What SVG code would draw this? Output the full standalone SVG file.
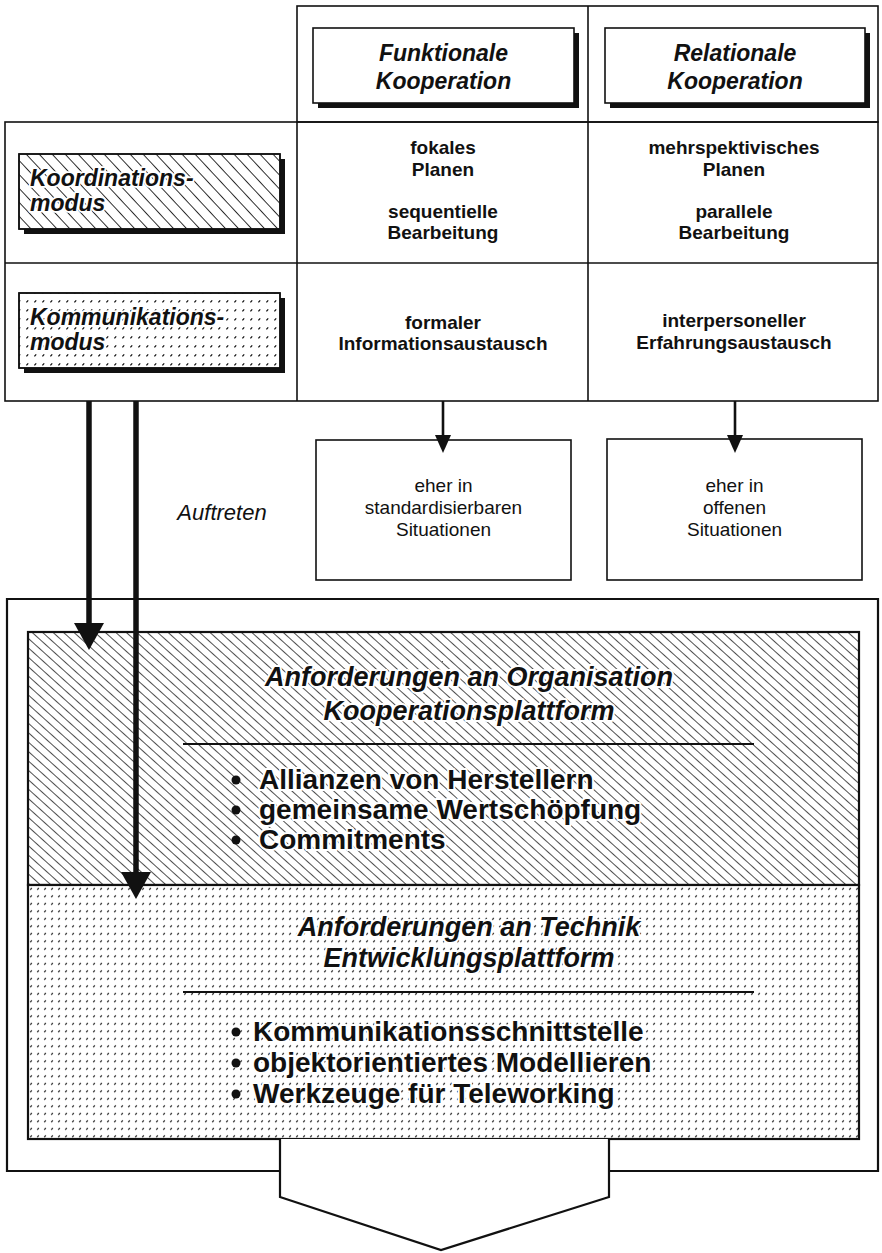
<svg xmlns="http://www.w3.org/2000/svg" width="882" height="1253" viewBox="0 0 882 1253">
<style>
.ln{fill:none;stroke:#111;stroke-width:1.6}
.box{fill:#fff;stroke:#111;stroke-width:1.6}
.shadow{fill:#111}
.frame{fill:none;stroke:#111;stroke-width:2.2}
.hdr{font-family:"Liberation Sans",Arial,sans-serif;font-weight:bold;font-style:italic;font-size:23px;fill:#111;text-anchor:middle}
.lbl{font-family:"Liberation Sans",Arial,sans-serif;font-weight:bold;font-style:italic;font-size:23px;fill:#111;stroke:#fff;stroke-width:3.5;paint-order:stroke;stroke-linejoin:round}
.cell{font-family:"Liberation Sans",Arial,sans-serif;font-weight:bold;font-size:19px;fill:#111;text-anchor:middle}
.sit{font-family:"Liberation Sans",Arial,sans-serif;font-size:19px;fill:#111;text-anchor:middle}
.auf{font-family:"Liberation Sans",Arial,sans-serif;font-style:italic;font-size:22px;fill:#111;text-anchor:middle}
.big{font-family:"Liberation Sans",Arial,sans-serif;font-weight:bold;font-style:italic;font-size:27px;fill:#111;text-anchor:middle;stroke:#fff;stroke-width:4;paint-order:stroke;stroke-linejoin:round}
.item{font-family:"Liberation Sans",Arial,sans-serif;font-weight:bold;font-size:28px;fill:#111;stroke:#fff;stroke-width:4;paint-order:stroke;stroke-linejoin:round}
.conn{fill:none;stroke:#111}
</style>
<defs>
<pattern id="hatchBig" patternUnits="userSpaceOnUse" width="20" height="7" patternTransform="rotate(42)">
<line x1="0" y1="0.5" x2="20" y2="0.5" stroke="#222" stroke-width="0.8"/>
</pattern>
<pattern id="hatchSmall" patternUnits="userSpaceOnUse" width="20" height="9.5" patternTransform="rotate(47)">
<line x1="0" y1="0.5" x2="20" y2="0.5" stroke="#111" stroke-width="0.9"/>
</pattern>
<pattern id="dots" patternUnits="userSpaceOnUse" width="7" height="7.5">
<path d="M2.2,4.7 L3.9,2.9" stroke="#222" stroke-width="1.2"/>
</pattern>
<pattern id="dotsSmall" patternUnits="userSpaceOnUse" width="8" height="9">
<path d="M2.4,5.4 L4.2,3.4" stroke="#111" stroke-width="1.3"/>
</pattern>
<marker id="headThin" markerUnits="userSpaceOnUse" markerWidth="18" markerHeight="16" refX="12" refY="8" orient="auto">
<path d="M0,0 L18,8 L0,16 z" fill="#111"/>
</marker>
<marker id="headThick" markerUnits="userSpaceOnUse" markerWidth="27" markerHeight="30" refX="17" refY="15" orient="auto">
<path d="M0,0 L27,15 L0,30 z" fill="#111"/>
</marker>
</defs>
<rect x="0" y="0" width="882" height="1253" fill="#fff"/>

<g id="table">
<rect class="ln" x="297" y="6" width="581" height="116"/>
<rect class="ln" x="5" y="122" width="873" height="279"/>
<line class="ln" x1="5" y1="263" x2="878" y2="263"/>
<line class="ln" x1="297" y1="122" x2="297" y2="401"/>
<line class="ln" x1="588" y1="6" x2="588" y2="401"/>
</g>

<g id="funktionale">
<rect class="shadow" x="318" y="33" width="261" height="75"/>
<rect class="box" x="313" y="28" width="261" height="75"/>
<text class="hdr" x="443.5" y="61">Funktionale</text>
<text class="hdr" x="443.5" y="89">Kooperation</text>
</g>

<g id="relationale">
<rect class="shadow" x="610" y="33" width="260" height="75"/>
<rect class="box" x="605" y="28" width="260" height="75"/>
<text class="hdr" x="735" y="61">Relationale</text>
<text class="hdr" x="735" y="89">Kooperation</text>
</g>

<g id="koordinationsmodus">
<rect class="shadow" x="24" y="159" width="261" height="75"/>
<rect class="box" x="19" y="154" width="261" height="75"/>
<rect x="19" y="154" width="261" height="75" fill="url(#hatchSmall)" stroke="#111" stroke-width="1.4"/>
<text class="lbl" x="30" y="186">Koordinations-</text>
<text class="lbl" x="30" y="211">modus</text>
</g>

<g id="kommunikationsmodus">
<rect class="shadow" x="24" y="298" width="261" height="75"/>
<rect class="box" x="19" y="293" width="261" height="75"/>
<rect x="19" y="293" width="261" height="75" fill="url(#dotsSmall)" stroke="#111" stroke-width="1.4"/>
<text class="lbl" x="30" y="325">Kommunikations-</text>
<text class="lbl" x="30" y="350">modus</text>
</g>

<g id="cell-funk-koord">
<text class="cell" x="443" y="154">fokales</text>
<text class="cell" x="443" y="176">Planen</text>
<text class="cell" x="443" y="218">sequentielle</text>
<text class="cell" x="443" y="239">Bearbeitung</text>
</g>
<g id="cell-rel-koord">
<text class="cell" x="734" y="154">mehrspektivisches</text>
<text class="cell" x="734" y="176">Planen</text>
<text class="cell" x="734" y="218">parallele</text>
<text class="cell" x="734" y="239">Bearbeitung</text>
</g>
<g id="cell-funk-komm">
<text class="cell" x="443" y="329">formaler</text>
<text class="cell" x="443" y="350">Informationsaustausch</text>
</g>
<g id="cell-rel-komm">
<text class="cell" x="734" y="327">interpersoneller</text>
<text class="cell" x="734" y="349">Erfahrungsaustausch</text>
</g>

<g id="auftreten">
<text class="auf" x="222" y="520">Auftreten</text>
</g>

<g id="standard">
<rect class="box" x="316" y="440" width="255" height="140"/>
<text class="sit" x="443.5" y="492">eher in</text>
<text class="sit" x="443.5" y="514">standardisierbaren</text>
<text class="sit" x="443.5" y="536">Situationen</text>
</g>

<g id="offen">
<rect class="box" x="607" y="439" width="255" height="141"/>
<text class="sit" x="734.5" y="492">eher in</text>
<text class="sit" x="734.5" y="514">offenen</text>
<text class="sit" x="734.5" y="536">Situationen</text>
</g>

<g id="container">
<path class="frame" d="M280,1171 H7 V599 H878 V1171 H609"/>
</g>

<g id="organisation">
<rect x="28" y="632" width="831" height="253" fill="#fff"/>
<rect x="28" y="632" width="831" height="253" fill="url(#hatchBig)" stroke="#111" stroke-width="2.2"/>
<text class="big" x="469" y="686">Anforderungen an Organisation</text>
<text class="big" x="469" y="720">Kooperationsplattform</text>
<line x1="183" y1="744" x2="754" y2="744" stroke="#111" stroke-width="2.2"/>
<circle cx="236" cy="780" r="4.5" fill="#111"/>
<circle cx="236" cy="810" r="4.5" fill="#111"/>
<circle cx="236" cy="840" r="4.5" fill="#111"/>
<text class="item" x="259" y="789">Allianzen von Herstellern</text>
<text class="item" x="259" y="819">gemeinsame Wertschöpfung</text>
<text class="item" x="259" y="849">Commitments</text>
</g>

<g id="technik">
<rect x="28" y="885" width="831" height="254" fill="#fff"/>
<rect x="28" y="885" width="831" height="254" fill="url(#dots)" stroke="#111" stroke-width="2.2"/>
<text class="big" x="469" y="936">Anforderungen an Technik</text>
<text class="big" x="469" y="967">Entwicklungsplattform</text>
<line x1="183" y1="992" x2="754" y2="992" stroke="#111" stroke-width="2.2"/>
<circle cx="236" cy="1032" r="4.5" fill="#111"/>
<circle cx="236" cy="1063" r="4.5" fill="#111"/>
<circle cx="236" cy="1094" r="4.5" fill="#111"/>
<text class="item" x="253" y="1041">Kommunikationsschnittstelle</text>
<text class="item" x="253" y="1072">objektorientiertes Modellieren</text>
<text class="item" x="253" y="1103">Werkzeuge für Teleworking</text>
</g>

<g id="chevron">
<path d="M280,1139 V1197 L441,1250 L609,1197 V1139" fill="#fff" stroke="#111" stroke-width="2.2" stroke-linejoin="miter"/>
</g>

<g id="connectors">
<line class="conn" x1="443" y1="401" x2="443" y2="447" stroke-width="2.6" marker-end="url(#headThin)"/>
<line class="conn" x1="735" y1="401" x2="735" y2="447" stroke-width="2.6" marker-end="url(#headThin)"/>
<line class="conn" x1="89" y1="401" x2="89" y2="640" stroke-width="5.5" marker-end="url(#headThick)"/>
<line class="conn" x1="136" y1="401" x2="136" y2="889" stroke-width="5.5" marker-end="url(#headThick)"/>
</g>
</svg>
